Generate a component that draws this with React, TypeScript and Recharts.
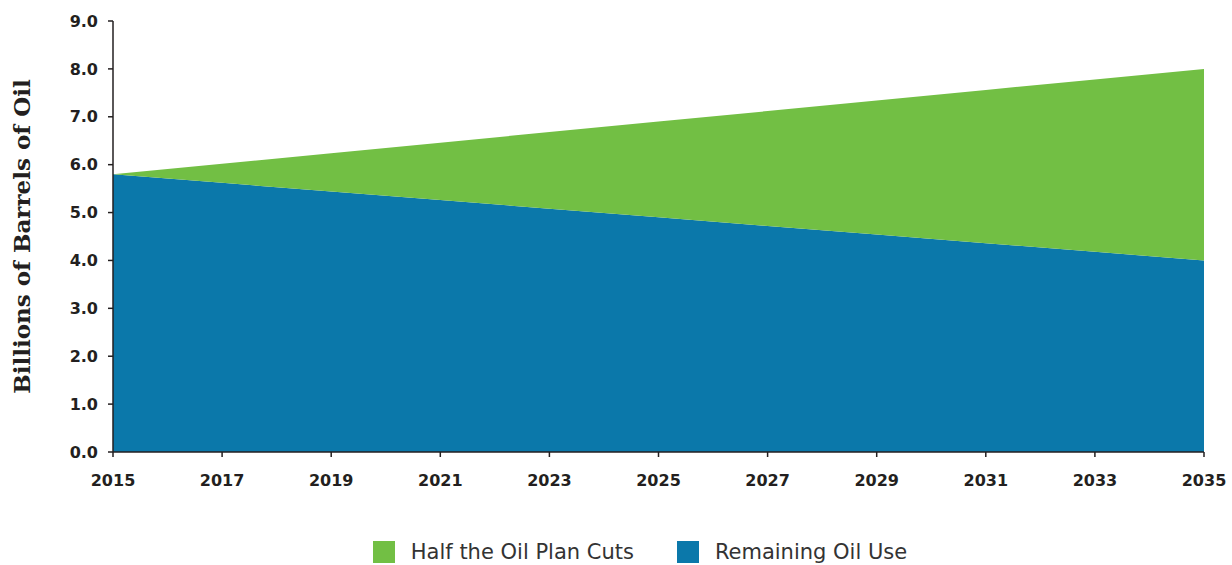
import React from 'react';
import { AreaChart, Area, XAxis, YAxis, Legend } from 'recharts';

const years = [2015, 2017, 2019, 2021, 2023, 2025, 2027, 2029, 2031, 2033, 2035];
const remainingOil = [5.8, 5.62, 5.44, 5.26, 5.08, 4.9, 4.72, 4.54, 4.36, 4.18, 4.0];
const planCuts = [0, 0.4, 0.8, 1.2, 1.6, 2.0, 2.4, 2.8, 3.2, 3.6, 4.0];
const yTicks = [0, 1, 2, 3, 4, 5, 6, 7, 8, 9];

const data = years.map((year, i) => ({
    year,
    remaining: remainingOil[i],
    cuts: planCuts[i],
}));

const GREEN = '#72bf44';
const BLUE = '#0b78aa';
const INK = '#231f20';
const FONT = '"DejaVu Sans", sans-serif';

const legendItems = [
    { label: 'Half the Oil Plan Cuts', color: GREEN },
    { label: 'Remaining Oil Use', color: BLUE },
];

const renderLegend = () => (
    <div style={{ display: 'flex', justifyContent: 'center', alignItems: 'center', fontFamily: FONT, paddingLeft: 48 }}>
        {legendItems.map((item, i) => (
            <div key={item.label} style={{ display: 'flex', alignItems: 'center', marginLeft: i === 0 ? 0 : 43 }}>
                <span style={{ width: 22, height: 22, background: item.color, display: 'inline-block', marginRight: 16 }} />
                <span style={{ fontSize: 21, color: '#333' }}>{item.label}</span>
            </div>
        ))}
    </div>
);

const App = () => {
    return (
        <div style={{ position: 'absolute', left: 0, top: 0, width: 1232, height: 565, background: '#fff' }}>
            <AreaChart
                width={1232}
                height={565}
                data={data}
                margin={{ top: 21, right: 28, bottom: 0, left: 0 }}
            >
                <XAxis
                    dataKey="year"
                    type="number"
                    domain={[2015, 2035]}
                    ticks={years}
                    stroke={INK}
                    strokeWidth={1.5}
                    tickSize={5}
                    tickMargin={18}
                    height={89}
                    tick={{ fill: INK, fontSize: 16, fontWeight: 700, fontFamily: FONT }}
                />
                <YAxis
                    domain={[0, 9]}
                    ticks={yTicks}
                    width={113}
                    stroke={INK}
                    strokeWidth={1.5}
                    tickSize={5}
                    tickMargin={10}
                    tickFormatter={(v: number) => v.toFixed(1)}
                    tick={{ fill: INK, fontSize: 16, fontWeight: 700, fontFamily: FONT }}
                    label={{
                        value: 'Billions of Barrels of Oil',
                        angle: -90,
                        position: 'insideLeft',
                        offset: 22,
                        style: {
                            textAnchor: 'middle',
                            fill: INK,
                            fontSize: 23,
                            fontWeight: 700,
                            fontFamily: '"DejaVu Serif", serif',
                        },
                    }}
                />
                <Legend
                    content={renderLegend}
                    wrapperStyle={{ top: 540, left: 0, width: 1232 }}
                />
                <Area
                    type="linear"
                    dataKey="remaining"
                    stackId="oil"
                    stroke="none"
                    fill={BLUE}
                    fillOpacity={1}
                    name="Remaining Oil Use"
                    isAnimationActive={false}
                />
                <Area
                    type="linear"
                    dataKey="cuts"
                    stackId="oil"
                    stroke="none"
                    fill={GREEN}
                    fillOpacity={1}
                    name="Half the Oil Plan Cuts"
                    isAnimationActive={false}
                />
            </AreaChart>
        </div>
    );
};

export default App;
